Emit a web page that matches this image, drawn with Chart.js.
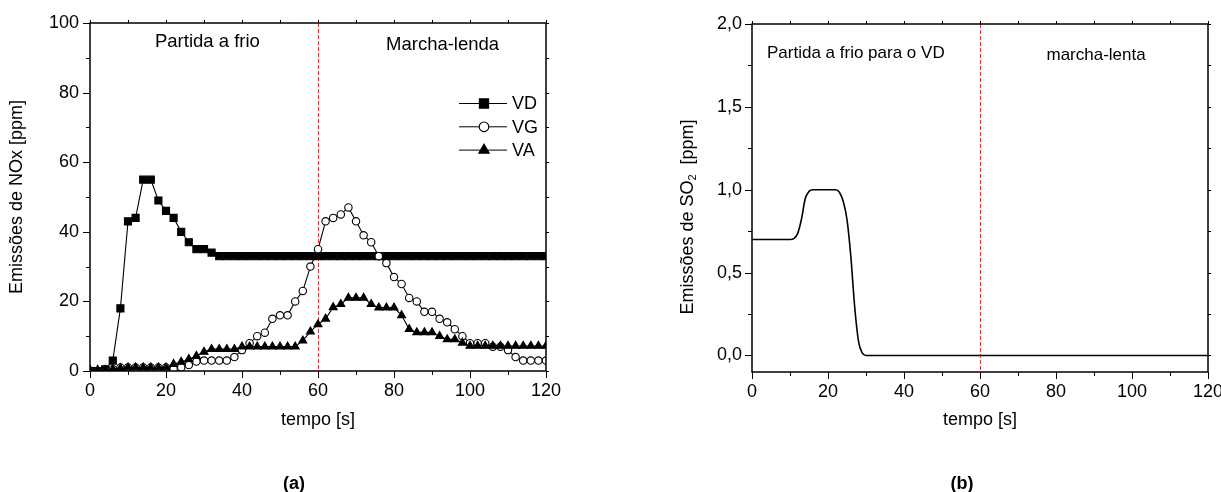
<!DOCTYPE html>
<html>
<head>
<meta charset="utf-8">
<script src="https://cdn.jsdelivr.net/npm/chart.js@4.4.1/dist/chart.umd.min.js"></script>
<style>
html,body{margin:0;padding:0;background:#fff;}
#wrap{position:relative;width:1221px;height:492px;overflow:hidden;font-family:'Liberation Sans',Arial,Helvetica,sans-serif;}
.pane{position:absolute;top:0;height:492px;}
#pa{left:0;width:610px;}
#pb{left:610px;width:611px;}
.cap{position:absolute;font-weight:bold;font-size:18px;line-height:1;transform:translate(-50%,-50%);color:#000;}
</style>
</head>
<body>
<div id="wrap">
  <div class="pane" id="pa"><canvas id="ca"></canvas></div>
  <div class="pane" id="pb"><canvas id="cb"></canvas></div>
  <div class="cap" style="left:294px;top:483px">(a)</div>
  <div class="cap" style="left:962px;top:483px">(b)</div>
</div>
<script>
// ---------- data ----------
const timeNOx = [0,2,4,6,8,10,12,14,16,18,20,22,24,26,28,30,32,34,36,38,40,42,44,46,48,50,52,54,56,58,60,62,64,66,68,70,72,74,76,78,80,82,84,86,88,90,92,94,96,98,100,102,104,106,108,110,112,114,116,118,120];
const noxVD = [0,0,0.5,3,18,43,44,55,55,49,46,44,40,37,35,35,34,33,33,33,33,33,33,33,33,33,33,33,33,33,33,33,33,33,33,33,33,33,33,33,33,33,33,33,33,33,33,33,33,33,33,33,33,33,33,33,33,33,33,33,33];
const noxVG = [0,0,0,0.5,1,1,1,1,1,1,1,0.6,1,1.7,2.7,3,3,3,3,4,6,8,10,11,15,16,16,20,23,30,35,43,44,45,47,43,39,37,33,31,27,25,21,20,17,17,15,14,12,10,8,8,8,7,7,6,4,3,3,3,3];
const noxVA = [0.3,0.3,0.3,0.5,0.8,1,1,1,1,1,1,2,2.6,3.4,4.3,5.5,6.3,6.3,6.3,6.3,7,7,7,7,7,7,7,7,8.7,11.3,13.4,15,18.3,19.2,21,21,21,19.2,18.2,18.2,18.2,16,12,11.1,11.1,11.1,10,9.1,9.1,8.1,7.2,7.2,7.2,7.2,7.2,7.2,7.2,7.2,7.2,7.2,7.2];
const seriesNames = ['VD','VG','VA'];

const timeSO2 = [0,10,11,12,13,14,15,16,22,23,24,25,26,27,28,29,30,120];
const so2VD   = [0.7,0.7,0.705,0.735,0.82,0.945,0.99,1.0,1.0,0.985,0.93,0.82,0.6,0.3,0.09,0.015,0,0];

const timeTicks = [0,20,40,60,80,100,120];
const noxYTicks = [0,20,40,60,80,100];
const so2YTicks = [0,0.5,1,1.5,2];
const so2YTickLabels = ['0,0','0,5','1,0','1,5','2,0'];

// ---------- setup ----------
const FONT = "'Liberation Sans', Arial, Helvetica, sans-serif";
Chart.defaults.font.family = FONT;
Chart.defaults.color = '#000';

function fixTicks(arr){ return function(scale){ scale.ticks = arr.map(v => ({value: v})); }; }

function pointGlyph(ctx, style, r, x, y){
  if (Chart.helpers && Chart.helpers.drawPoint) {
    Chart.helpers.drawPoint(ctx, {pointStyle: style, radius: r, rotation: 0, borderWidth: ctx.lineWidth}, x, y);
    return;
  }
  ctx.beginPath();
  if (style === 'rect') { const s = Math.SQRT1_2*r; ctx.rect(x-s, y-s, 2*s, 2*s); }
  else if (style === 'triangle') { ctx.moveTo(x, y-r); ctx.lineTo(x+0.866*r, y+r/2); ctx.lineTo(x-0.866*r, y+r/2); ctx.closePath(); }
  else { ctx.arc(x, y, r, 0, Math.PI*2); }
  ctx.fill(); ctx.stroke();
}

const framePlugin = {
  id: 'frame',
  beforeDatasetsDraw(chart, args, o) {
    const {ctx, chartArea: a, scales: {x}} = chart;
    if (o.splitAt == null) return;
    const px = Math.round(x.getPixelForValue(o.splitAt)) + 0.5;
    ctx.save();
    ctx.strokeStyle = '#f03030'; ctx.lineWidth = 1; ctx.setLineDash([4, 2]);
    ctx.beginPath(); ctx.moveTo(px, a.top); ctx.lineTo(px, a.bottom); ctx.stroke();
    ctx.restore();
  },
  afterDraw(chart, args, o) {
    const {ctx, chartArea: a, scales: {x, y}} = chart;
    ctx.save();
    ctx.strokeStyle = '#000';
    ctx.lineWidth = 1.5;
    ctx.strokeRect(a.left, a.top, a.right - a.left, a.bottom - a.top);
    ctx.lineWidth = 1;
    ctx.beginPath();
    const nx = Math.round((o.xMax - o.xMin) / o.xMinor);
    for (let i = 0; i <= nx; i++) {
      const px = Math.round(x.getPixelForValue(o.xMin + i * o.xMinor)) + 0.5;
      const L = (i % o.xEvery === 0) ? 7 : 4;
      ctx.moveTo(px, a.bottom); ctx.lineTo(px, a.bottom + L);
      ctx.moveTo(px, a.top); ctx.lineTo(px, a.top - 3);
    }
    const ny = Math.round((o.yMax - o.yMin) / o.yMinor);
    for (let i = 0; i <= ny; i++) {
      const py = Math.round(y.getPixelForValue(o.yMin + i * o.yMinor)) + 0.5;
      const L = (i % o.yEvery === 0) ? 7 : 4;
      ctx.moveTo(a.left, py); ctx.lineTo(a.left - L, py);
      ctx.moveTo(a.right, py); ctx.lineTo(a.right + 3, py);
    }
    ctx.stroke();
    // annotations
    ctx.fillStyle = '#000'; ctx.textAlign = 'left'; ctx.textBaseline = 'alphabetic';
    (o.notes || []).forEach(t => {
      ctx.font = t.size + 'px ' + FONT;
      ctx.fillText(t.text, x.getPixelForValue(t.x), y.getPixelForValue(t.y));
    });
    // legend (line + marker + label)
    if (o.legend) {
      const L = o.legend;
      chart.data.datasets.forEach((ds, i) => {
        const cy = a.top + L.top + i * L.gap;
        const x0 = a.right - L.right;
        ctx.strokeStyle = '#000'; ctx.lineWidth = 1;
        ctx.beginPath(); ctx.moveTo(x0, cy); ctx.lineTo(x0 + 48, cy); ctx.stroke();
        ctx.fillStyle = ds.pointBackgroundColor; ctx.strokeStyle = ds.pointBorderColor;
        ctx.lineWidth = ds.pointBorderWidth;
        pointGlyph(ctx, ds.pointStyle, ds.pointRadius * L.markerScale, x0 + 25, cy);
        ctx.fillStyle = '#000'; ctx.font = L.size + 'px ' + FONT; ctx.textBaseline = 'middle';
        ctx.fillText(ds.label, x0 + 53, cy + 1);
      });
    }
    ctx.restore();
  }
};

const so2TitlePlugin = {
  id: 'so2title',
  afterDraw(chart, args, o) {
    if (!o.cx) return;
    const ctx = chart.ctx;
    ctx.save();
    ctx.translate(o.cx, o.cy);
    ctx.rotate(-Math.PI / 2);
    ctx.fillStyle = '#000';
    ctx.textBaseline = 'middle';
    const big = o.size + 'px ' + FONT, small = Math.round(o.size * 0.62) + 'px ' + FONT;
    ctx.font = big; const w1 = ctx.measureText(o.pre).width; const w3 = ctx.measureText(o.post).width;
    ctx.font = small; const w2 = ctx.measureText(o.sub).width;
    let xx = -(w1 + w2 + w3) / 2;
    ctx.font = big; ctx.textAlign = 'left'; ctx.fillText(o.pre, xx, 0); xx += w1;
    ctx.font = small; ctx.fillText(o.sub, xx, 5); xx += w2;
    ctx.font = big; ctx.fillText(o.post, xx, 0);
    ctx.restore();
  }
};

function xScale(pad, size) {
  return {
    type: 'linear', min: 0, max: 120,
    afterBuildTicks: fixTicks(timeTicks),
    afterFit(s) { s.height = pad; s.paddingLeft = 0; s.paddingRight = 0; },
    grid: {display: false, drawTicks: false, tickLength: 0},
    border: {display: false},
    ticks: {font: {size: size}, color: '#000', padding: 9, maxRotation: 0, autoSkip: false},
    title: {display: true, text: 'tempo [s]', font: {size: 18}, color: '#000', padding: {top: 0, bottom: 61}}
  };
}

const mk = (style, r, bg) => ({
  borderColor: '#000', borderWidth: 1.1, tension: 0,
  pointStyle: style, pointRadius: r, pointHoverRadius: r,
  pointBackgroundColor: bg, pointBorderColor: '#000', pointBorderWidth: 1.1
});

// ---------- chart (a) ----------
new Chart(document.getElementById('ca'), {
  type: 'line',
  data: {
    datasets: [
      Object.assign({label: seriesNames[0], order: 3, data: timeNOx.map((t, i) => ({x: t, y: noxVD[i]}))}, mk('rect', 5.0, '#000')),
      Object.assign({label: seriesNames[1], order: 2, data: timeNOx.map((t, i) => ({x: t, y: noxVG[i]}))}, mk('circle', 3.7, '#fff')),
      Object.assign({label: seriesNames[2], order: 1, data: timeNOx.map((t, i) => ({x: t, y: noxVA[i]}))}, mk('triangle', 4.6, '#000'))
    ]
  },
  options: {
    responsive: true, maintainAspectRatio: false, animation: false,
    layout: {padding: {top: 23, right: 64, bottom: 0, left: 0}},
    scales: {
      x: xScale(121, 18),
      y: {
        type: 'linear', min: 0, max: 100,
        afterBuildTicks: fixTicks(noxYTicks),
        afterFit(s) { s.width = 90; },
        grid: {display: false, drawTicks: false, tickLength: 0},
        border: {display: false},
        ticks: {font: {size: 18}, color: '#000', padding: 11},
        title: {display: true, text: 'Emissões de NOx [ppm]', font: {size: 18}, color: '#000', padding: {top: 6, bottom: 0}}
      }
    },
    plugins: {
      legend: {display: false}, tooltip: {enabled: false},
      frame: {
        splitAt: 60, xMin: 0, xMax: 120, xMinor: 10, xEvery: 2, yMin: 0, yMax: 100, yMinor: 10, yEvery: 2,
        notes: [
          {text: 'Partida a frio', x: 17.1, y: 93.2, size: 18.5},
          {text: 'Marcha-lenda', x: 77.9, y: 92.2, size: 18.5}
        ],
        legend: {top: 80.5, gap: 23.3, right: 87, size: 18, markerScale: 1.3}
      }
    }
  },
  plugins: [framePlugin]
});

// ---------- chart (b) ----------
new Chart(document.getElementById('cb'), {
  type: 'line',
  data: {
    datasets: [{
      label: 'SO2', data: timeSO2.map((t, i) => ({x: t, y: so2VD[i]})),
      borderColor: '#000', borderWidth: 1.6, pointRadius: 0, cubicInterpolationMode: 'monotone'
    }]
  },
  options: {
    responsive: true, maintainAspectRatio: false, animation: false,
    layout: {padding: {top: 24, right: 13, bottom: 0, left: 0}},
    scales: {
      x: xScale(120, 18),
      y: {
        type: 'linear', min: -0.1, max: 2.0,
        afterBuildTicks: fixTicks(so2YTicks),
        afterFit(s) { s.width = 142; },
        grid: {display: false, drawTicks: false, tickLength: 0},
        border: {display: false},
        ticks: {font: {size: 18}, color: '#000', padding: 10, callback: (v, i) => so2YTickLabels[i]}
      }
    },
    plugins: {
      legend: {display: false}, tooltip: {enabled: false},
      frame: {
        splitAt: 60, xMin: 0, xMax: 120, xMinor: 10, xEvery: 2, yMin: 0, yMax: 2, yMinor: 0.25, yEvery: 2,
        notes: [
          {text: 'Partida a frio para o VD', x: 3.95, y: 1.796, size: 17},
          {text: 'marcha-lenta', x: 77.5, y: 1.784, size: 17}
        ]
      },
      so2title: {cx: 78, cy: 217, size: 18, pre: 'Emissões de SO', sub: '2', post: '  [ppm]'}
    }
  },
  plugins: [framePlugin, so2TitlePlugin]
});
</script>
</body>
</html>
